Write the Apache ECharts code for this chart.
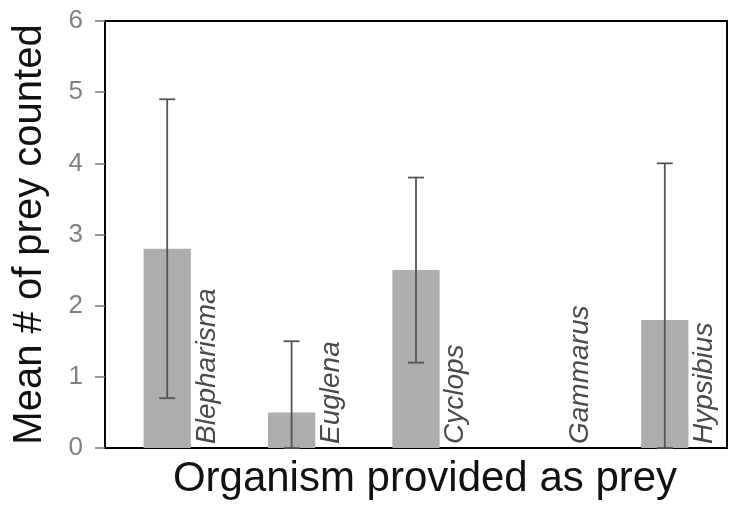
<!DOCTYPE html>
<html>
<head>
<meta charset="utf-8">
<script src="https://cdn.jsdelivr.net/npm/echarts@6/dist/echarts.min.js"></script>
<style>html,body{margin:0;padding:0;background:#fff;}#c{width:734px;height:505px;}</style>
</head>
<body>
<div id="c"></div>
<script>
var categories = ['Blepharisma', 'Euglena', 'Cyclops', 'Gammarus', 'Hypsibius'];
var means = [2.8, 0.5, 2.5, 0, 1.8];
var errLow = [0.7, 0, 1.2, null, 0];
var errHigh = [4.9, 1.5, 3.8, null, 4.0];
var yTicks = [0, 1, 2, 3, 4, 5, 6];

var chart = echarts.init(document.getElementById('c'));
var errData = categories.map(function (c, i) { return [i, errLow[i], errHigh[i], means[i]]; });
var labelData = categories.map(function (c, i) { return [i, 0]; });

chart.setOption({
  animation: false,
  grid: { left: 105, right: 7, top: 21, bottom: 57, show: true, borderColor: '#000', borderWidth: 2 },
  xAxis: {
    type: 'category', data: categories,
    axisLine: { lineStyle: { color: '#000', width: 2 } },
    axisTick: { show: false }, axisLabel: { show: false },
    name: 'Organism provided as prey', nameLocation: 'middle', nameGap: 10,
    nameTextStyle: { fontFamily: 'Liberation Sans, Arial', fontSize: 42, color: '#111', verticalAlign: 'top', padding: [0, 0, 0, 18] }
  },
  yAxis: {
    type: 'value', min: 0, max: 6, interval: 1,
    axisLine: { show: true, lineStyle: { color: '#000', width: 2 } },
    axisTick: { show: true, length: 10, lineStyle: { color: '#777', width: 1.5 } },
    axisLabel: { fontFamily: 'Liberation Sans, Arial', fontSize: 26, color: '#808080', margin: 22,
      formatter: function (v) { return yTicks.indexOf(v) >= 0 ? String(v) : ''; } },
    splitLine: { show: false },
    name: 'Mean # of prey counted', nameLocation: 'middle', nameGap: 55,
    nameTextStyle: { fontFamily: 'Liberation Sans, Arial', fontSize: 40, color: '#111' }
  },
  series: [
    {
      type: 'bar', data: means, barWidth: '38%',
      itemStyle: { color: '#adadad' }
    },
    {
      type: 'custom', data: errData, z: 5,
      renderItem: function (params, api) {
        var i = api.value(0);
        var lo = api.value(1), hi = api.value(2);
        if (isNaN(lo) || isNaN(hi)) return null;
        var pLo = api.coord([i, lo]), pHi = api.coord([i, hi]);
        var cap = 8;
        var st = { stroke: '#555', lineWidth: 1.8 };
        return { type: 'group', children: [
          { type: 'line', shape: { x1: pLo[0], y1: pLo[1], x2: pHi[0], y2: pHi[1] }, style: st },
          { type: 'line', shape: { x1: pLo[0] - cap, y1: pLo[1], x2: pLo[0] + cap, y2: pLo[1] }, style: st },
          { type: 'line', shape: { x1: pHi[0] - cap, y1: pHi[1], x2: pHi[0] + cap, y2: pHi[1] }, style: st }
        ] };
      }
    },
    {
      type: 'custom', data: labelData, z: 6,
      renderItem: function (params, api) {
        var i = api.value(0);
        var p = api.coord([i, 0]);
        var bw = api.size([1, 0])[0] * 0.38;
        return {
          type: 'text', x: p[0] + bw / 2 + 2, y: p[1] - 4, rotation: Math.PI / 2,
          style: { text: categories[i], fontFamily: 'Liberation Sans, Arial', fontStyle: 'italic', fontSize: 28,
            fill: '#4a4a4a', align: 'left', verticalAlign: 'top' }
        };
      }
    }
  ]
});
</script>
</body>
</html>
